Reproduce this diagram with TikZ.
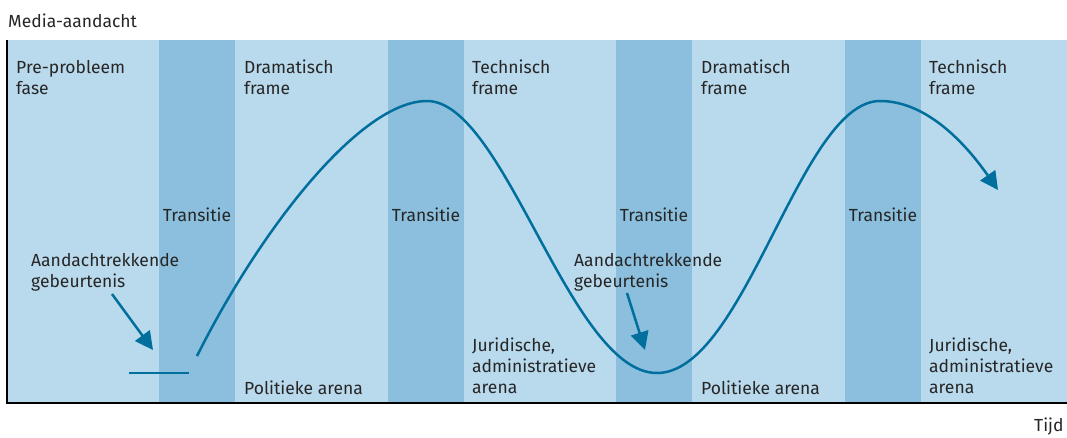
\documentclass[tikz,border=0pt]{standalone}
\usepackage{fontspec}
\setmainfont{Fira Sans}
\usetikzlibrary{arrows.meta}
\definecolor{bandlight}{RGB}{185,217,236}
\definecolor{banddark}{RGB}{139,191,221}
\definecolor{curveblue}{RGB}{0,111,158}
\tikzset{
  lbl/.style={anchor=north west, align=left, inner sep=0pt, text=black!85,
    font=\fontsize{17.5}{21}\selectfont},
  trans/.style={anchor=center, inner sep=0pt, text=black!85,
    font=\fontsize{17.5}{21}\selectfont},
  curve/.style={draw=curveblue, line width=2.5pt},
  pointer/.style={draw=curveblue, line width=2.5pt, -{Triangle[length=18pt,width=18pt]}}
}
\begin{document}
\begin{tikzpicture}[x=1pt,y=-1pt]
\useasboundingbox (0,0) rectangle (1067,437);
% background bands
\fill[bandlight] (7,40) rectangle (1067,403);
\foreach \x in {159,388,616,845} \fill[banddark] (\x,40) rectangle (\x+76,403);
% axes
\draw[line width=1.5pt] (7,40) -- (7,403) -- (1067,403);
\node[lbl] (yaxis) at (8,14) {Media-aandacht};
\node[lbl] (xaxis) at (1034,418) {Tijd};
% frames
\node[lbl] (pre) at (16,60) {Pre-probleem\\fase};
\node[lbl] (drama1) at (244,60) {Dramatisch\\frame};
\node[lbl] (tech1) at (472,60) {Technisch\\frame};
\node[lbl] (drama2) at (701,60) {Dramatisch\\frame};
\node[lbl] (tech2) at (929,60) {Technisch\\frame};
\foreach \x [count=\i] in {197,426,654,883} \node[trans] (trans\i) at (\x,215) {Transitie};
% arenas
\node[lbl] (pol1) at (244,381) {Politieke arena};
\node[lbl] (jur1) at (472,338) {Juridische,\\administratieve\\arena};
\node[lbl] (pol2) at (701,381) {Politieke arena};
\node[lbl] (jur2) at (929,338) {Juridische,\\administratieve\\arena};
% events
\node[lbl] (event1) at (31,253) {Aandachtrekkende\\gebeurtenis};
\node[lbl] (event2) at (574,253) {Aandachtrekkende\\gebeurtenis};
\coordinate (hit1) at (153,350);
\coordinate (hit2) at (645,350);
\draw[pointer] (112,294) -- (hit1);
\draw[pointer] (627,293) -- (hit2);
% attention curve
\coordinate (base1) at (129,373);
\coordinate (base2) at (189,373);
\coordinate (start) at (197,356);
\coordinate (peak1) at (427,101);
\coordinate (dip) at (657,373);
\coordinate (peak2) at (880,101);
\coordinate (finish) at (998,190);
\draw[curve] (base1) -- (base2);
\draw[curve] (start) .. controls (260,230) and (360,101) .. (peak1)
  .. controls (505,101) and (570,373) .. (dip)
  .. controls (745,373) and (800,101) .. (peak2);
\draw[pointer] (peak2) .. controls (930,101) and (970,150) .. (finish);
\end{tikzpicture}
\end{document}
